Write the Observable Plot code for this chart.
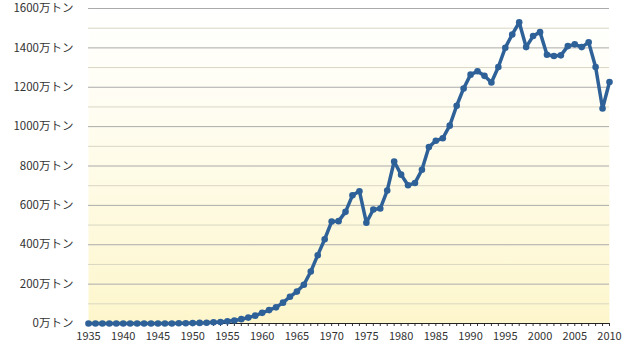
<!DOCTYPE html>
<html>
<head>
<meta charset="utf-8">
<script src="https://cdn.jsdelivr.net/npm/d3@7"></script>
<script src="https://cdn.jsdelivr.net/npm/@observablehq/plot@0.6"></script>
<style>
  html, body { margin: 0; padding: 0; background: #fff; }
  #chart { width: 640px; height: 360px; }
</style>
</head>
<body>
<div id="chart"></div>
<script>
const years = [1935,1936,1937,1938,1939,1940,1941,1942,1943,1944,1945,1946,1947,1948,1949,
  1950,1951,1952,1953,1954,1955,1956,1957,1958,1959,1960,1961,1962,1963,1964,
  1965,1966,1967,1968,1969,1970,1971,1972,1973,1974,1975,1976,1977,1978,1979,
  1980,1981,1982,1983,1984,1985,1986,1987,1988,1989,1990,1991,1992,1993,1994,
  1995,1996,1997,1998,1999,2000,2001,2002,2003,2004,2005,2006,2007,2008,2009,2010];
const production = [0,0,0,0,0,0,0,0,0,0,0,0,0,1,1,
  2,3,4,6,8,11,15,22,30,40,54,68,82,106,136,
  162,197,264,347,428,518,520,567,651,672,512,579,584,675,823,
  756,702,714,781,896,928,941,1005,1106,1194,1264,1281,1258,1224,1303,
  1401,1468,1530,1404,1460,1480,1365,1359,1362,1409,1418,1404,1428,1303,1092,1227];
const yLabelTicks = [0,200,400,600,800,1000,1200,1400,1600];
const yMinorTicks = [100,300,500,700,900,1100,1300,1500];
const xLabelTicks = [1935,1940,1945,1950,1955,1960,1965,1970,1975,1980,1985,1990,1995,2000,2005,2010];
const unit = "万トン";

const data = years.map((y, i) => ({year: y, value: production[i]}));
const lineColor = "#2f6199";

const chart = Plot.plot({
  width: 640,
  height: 360,
  marginLeft: 88,
  marginRight: 31,
  marginTop: 8,
  marginBottom: 37,
  style: {fontFamily: "'Noto Sans CJK JP', 'Noto Sans', sans-serif", fontSize: "12px", color: "#333", background: "transparent"},
  x: {domain: [1935, 2010]},
  y: {domain: [0, 1600]},
  marks: [
    Plot.frame({fill: "url(#bgGrad)", stroke: "none"}),
    Plot.ruleY(yMinorTicks, {stroke: "#d9d6c4", strokeWidth: 1}),
    Plot.ruleY(yLabelTicks.filter(d => d > 0), {stroke: "#ababab", strokeWidth: 1}),
    Plot.axisY({ticks: yLabelTicks, tickSize: 0, tickPadding: 15, tickFormat: d => d + unit, label: null, fill: "#333", fontSize: 11.5}),
    Plot.axisX({ticks: years, tickSize: 3, tickFormat: () => "", label: null, stroke: "#333"}),
    Plot.axisX({ticks: xLabelTicks, tickSize: 0, tickPadding: 9, tickFormat: d => String(d), label: null, fill: "#333", fontSize: 11}),
    Plot.ruleY([0], {stroke: "#222", strokeWidth: 1}),
    Plot.line(data, {x: "year", y: "value", stroke: lineColor, strokeWidth: 3.5, strokeLinejoin: "round"}),
    Plot.dot(data, {x: "year", y: "value", r: 3.3, fill: lineColor, stroke: "none"})
  ]
});

const svgNS = "http://www.w3.org/2000/svg";
const defs = document.createElementNS(svgNS, "defs");
defs.innerHTML = '<linearGradient id="bgGrad" x1="0" y1="0" x2="0" y2="1">' +
  '<stop offset="0" stop-color="#ffffff"/>' +
  '<stop offset="0.35" stop-color="#fffdf0"/>' +
  '<stop offset="1" stop-color="#fdf6cc"/>' +
  '</linearGradient>';
chart.insertBefore(defs, chart.firstChild);
document.getElementById("chart").appendChild(chart);
</script>
</body>
</html>
